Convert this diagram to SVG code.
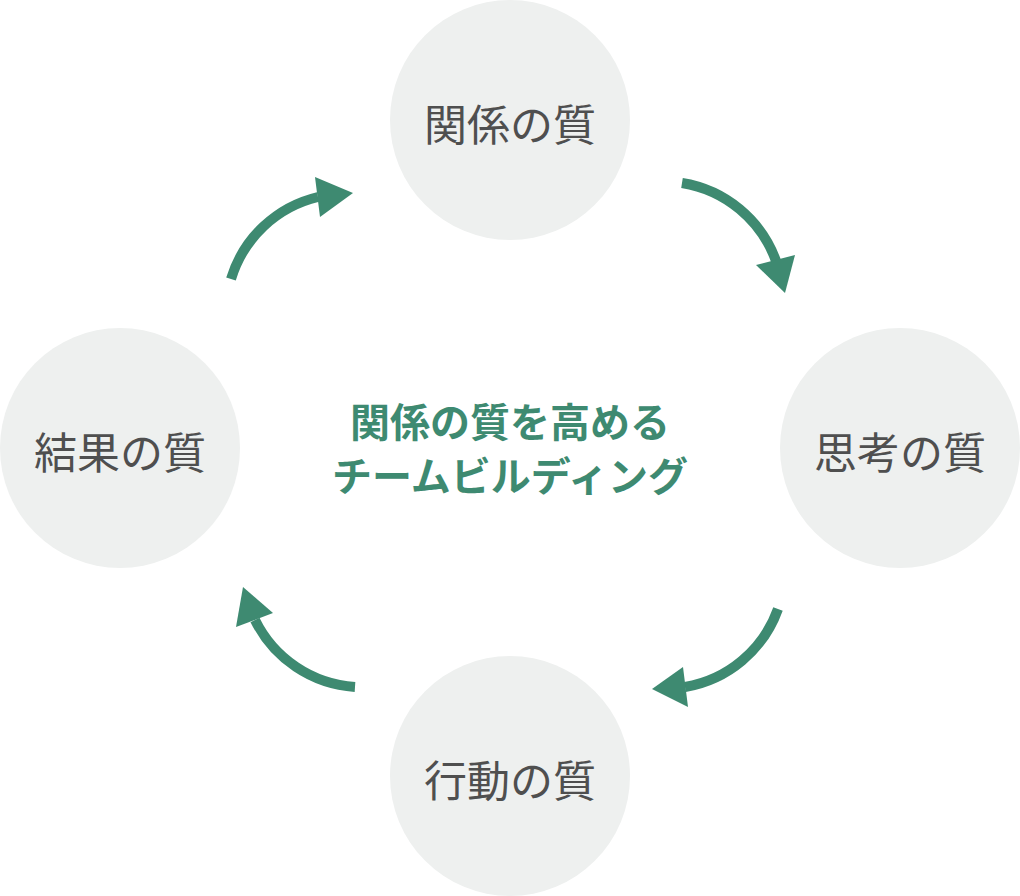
<svg xmlns="http://www.w3.org/2000/svg" width="1020" height="896" viewBox="0 0 1020 896">
  <style>
    .node circle { fill: #eef0ef; }
    .node text { font-family: "Noto Sans CJK JP", "Noto Sans", sans-serif; font-size: 43px; font-weight: 400; fill: #4f4f4f; text-anchor: middle; dominant-baseline: central; }
    .flow path { fill: none; stroke: #3e8a71; stroke-width: 10; }
    .flow polygon { fill: #3e8a71; }
    .title { font-family: "Noto Sans CJK JP", "Noto Sans", sans-serif; font-size: 40px; font-weight: 700; fill: #3e8a71; text-anchor: middle; dominant-baseline: central; }
  </style>

  <rect width="1020" height="896" fill="#ffffff"/>

  <g id="node-relationship" class="node">
    <circle cx="510" cy="120" r="120"/>
    <text x="510" y="122">関係の質</text>
  </g>
  <g id="node-thinking" class="node">
    <circle cx="900" cy="448" r="120"/>
    <text x="900" y="450">思考の質</text>
  </g>
  <g id="node-action" class="node">
    <circle cx="510" cy="776" r="120"/>
    <text x="510" y="778">行動の質</text>
  </g>
  <g id="node-result" class="node">
    <circle cx="120" cy="448" r="120"/>
    <text x="120" y="450">結果の質</text>
  </g>

  <g id="connectors" class="flow">
    <!-- result -> relationship -->
    <path d="M 231 279 A 120 120 0 0 1 318 197"/>
    <polygon points="315,177 353,193 320,217"/>
    <!-- relationship -> thinking -->
    <path d="M 682 183 A 120 120 0 0 1 776 261"/>
    <polygon points="756,265 795,255 785,293"/>
    <!-- thinking -> action -->
    <path d="M 778 609 A 120 120 0 0 1 685 687"/>
    <polygon points="683,667 652,689 688,707"/>
    <!-- action -> result -->
    <path d="M 355 687 A 120 120 0 0 1 255 620"/>
    <polygon points="243,587 236,627 273,613"/>
  </g>

  <g id="center-title">
    <text class="title" x="510" y="420">関係の質を高める</text>
    <text class="title" x="510" y="474">チームビルディング</text>
  </g>
</svg>
